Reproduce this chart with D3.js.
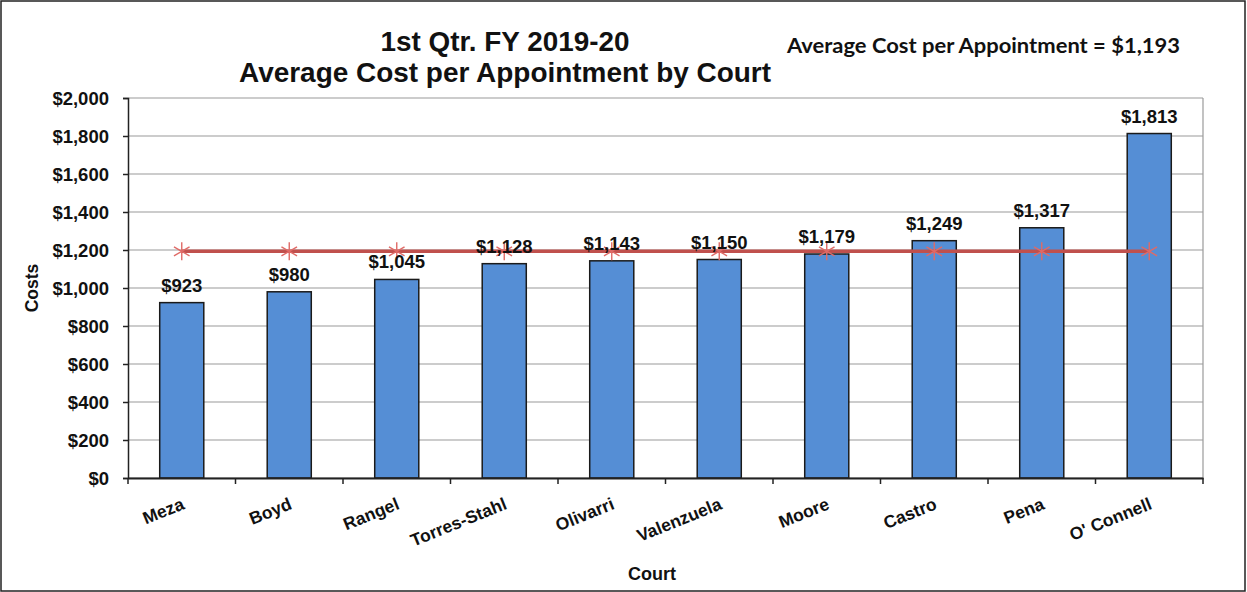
<!DOCTYPE html>
<html>
<head>
<meta charset="utf-8">
<script src="https://cdn.jsdelivr.net/npm/d3@7"></script>
<style>
  body { margin: 0; background: #fff; }
  svg { display: block; }
  .bold { font-family: Arial, "Liberation Sans", sans-serif; font-weight: bold; }
</style>
</head>
<body>
<svg id="chart" width="1247" height="592"></svg>
<script>
// data
const courts = ["Meza", "Boyd", "Rangel", "Torres-Stahl", "Olivarri", "Valenzuela", "Moore", "Castro", "Pena", "O' Connell"];
const costs = [923, 980, 1045, 1128, 1143, 1150, 1179, 1249, 1317, 1813];
const averageCost = 1193;
const yTicks = [0, 200, 400, 600, 800, 1000, 1200, 1400, 1600, 1800, 2000];

const svg = d3.select("#chart");
const W = 1247, H = 592;
const m = {left: 128, right: 44, top: 98, bottom: 114};

let fmt = d3.format("$,");

// outer frame
svg.append("rect").attr("x", 1).attr("y", 1).attr("width", W - 3).attr("height", H - 2)
  .attr("fill", "#fff").attr("stroke", "#222").attr("stroke-width", 1.5);

let x = d3.scaleBand().domain(courts).range([m.left, W - m.right]).paddingInner(0.59).paddingOuter(0.295);
let xTicks = d3.scaleBand().domain(courts).range([m.left, W - m.right]);
let y = d3.scaleLinear().domain([0, 2000]).range([H - m.bottom, m.top]);

// gridlines
svg.append("g").selectAll("line").data(yTicks).enter().append("line")
  .attr("x1", m.left).attr("x2", W - m.right)
  .attr("y1", d => y(d)).attr("y2", d => y(d))
  .attr("stroke", "#9a9a9a").attr("stroke-width", 1.2);

// plot border right
svg.append("line").attr("x1", W - m.right).attr("x2", W - m.right)
  .attr("y1", y(2000)).attr("y2", y(0)).attr("stroke", "#9a9a9a").attr("stroke-width", 1.2);

// bars
svg.append("g").selectAll("rect").data(costs).enter().append("rect")
  .attr("x", (d, i) => x(courts[i]))
  .attr("y", d => y(d))
  .attr("width", x.bandwidth())
  .attr("height", d => y(0) - y(d))
  .attr("fill", "#558ed5").attr("stroke", "#1a1a1a").attr("stroke-width", 1.5);

// average line
let cx = d => xTicks(d) + xTicks.bandwidth() / 2;
svg.append("path")
  .attr("d", d3.line()(courts.map(c => [cx(c), y(averageCost)])))
  .attr("stroke", "#c0504d").attr("stroke-width", 3.5).attr("fill", "none");

// star markers
let star = svg.append("g");
courts.forEach(function (c) {
  let px = cx(c), py = y(averageCost), r = 9;
  [0, 60, 120].forEach(function (a) {
    let rad = a * Math.PI / 180;
    star.append("line")
      .attr("x1", px - r * Math.sin(rad)).attr("y1", py - r * Math.cos(rad))
      .attr("x2", px + r * Math.sin(rad)).attr("y2", py + r * Math.cos(rad))
      .attr("stroke", "#e06a66").attr("stroke-width", 1.4);
  });
});

// data labels
svg.append("g").selectAll("text").data(costs).enter().append("text")
  .attr("class", "bold")
  .attr("x", (d, i) => cx(courts[i]))
  .attr("y", d => y(d) - 11)
  .attr("text-anchor", "middle")
  .attr("font-size", 18.5)
  .attr("fill", "#111")
  .text(d => fmt(d));

// y axis
let yAxis = svg.append("g").attr("transform", `translate(${m.left},0)`)
  .call(d3.axisLeft(y).tickValues(yTicks).tickSize(5).tickFormat(d => fmt(d)));
yAxis.select(".domain").attr("stroke", "#222").attr("stroke-width", 1.5);
yAxis.selectAll(".tick line").attr("stroke", "#222").attr("stroke-width", 1.5);
yAxis.selectAll("text").attr("class", "bold").attr("font-size", 18.5).attr("fill", "#111")
  .attr("x", -19).attr("dy", "0.35em");

// x axis
let xAxis = svg.append("g").attr("transform", `translate(0,${y(0)})`)
  .call(d3.axisBottom(xTicks).tickSize(0).tickFormat(""));
xAxis.select(".domain").attr("stroke", "#222").attr("stroke-width", 2);
svg.append("g").selectAll("line").data(d3.range(courts.length + 1)).enter().append("line")
  .attr("x1", i => m.left + i * xTicks.step()).attr("x2", i => m.left + i * xTicks.step())
  .attr("y1", y(0)).attr("y2", y(0) + 6).attr("stroke", "#222").attr("stroke-width", 1.5);

svg.append("g").selectAll("text").data(courts).enter().append("text")
  .attr("class", "bold")
  .attr("font-size", 17.5)
  .attr("fill", "#111")
  .attr("text-anchor", "end")
  .attr("transform", d => `translate(${cx(d) - 1},${y(0) + 19}) rotate(-22)`)
  .attr("dy", "0.71em")
  .text(d => d);

// axis titles
svg.append("text").attr("class", "bold").attr("font-size", 17.5).attr("fill", "#111")
  .attr("text-anchor", "middle").attr("transform", `translate(38,${(y(0) + y(2000)) / 2}) rotate(-90)`)
  .text("Costs");
svg.append("text").attr("class", "bold").attr("font-size", 18).attr("fill", "#111")
  .attr("text-anchor", "middle").attr("x", 652).attr("y", 580).text("Court");

// titles
svg.append("text").attr("class", "bold").attr("font-size", 27).attr("fill", "#111")
  .attr("text-anchor", "middle").attr("x", 505).attr("y", 51)
  .attr("textLength", 249).attr("lengthAdjust", "spacingAndGlyphs")
  .text("1st Qtr. FY 2019-20");
svg.append("text").attr("class", "bold").attr("font-size", 27).attr("fill", "#111")
  .attr("text-anchor", "middle").attr("x", 505).attr("y", 82)
  .attr("textLength", 532).attr("lengthAdjust", "spacingAndGlyphs")
  .text("Average Cost per Appointment by Court");
svg.append("text").attr("font-family", "Lato, 'Open Sans', sans-serif").attr("font-weight", "bold")
  .attr("font-size", 20).attr("fill", "#111")
  .attr("x", 787).attr("y", 53)
  .attr("textLength", 393).attr("lengthAdjust", "spacingAndGlyphs")
  .text("Average Cost per Appointment = " + fmt(averageCost));
</script>
</body>
</html>
